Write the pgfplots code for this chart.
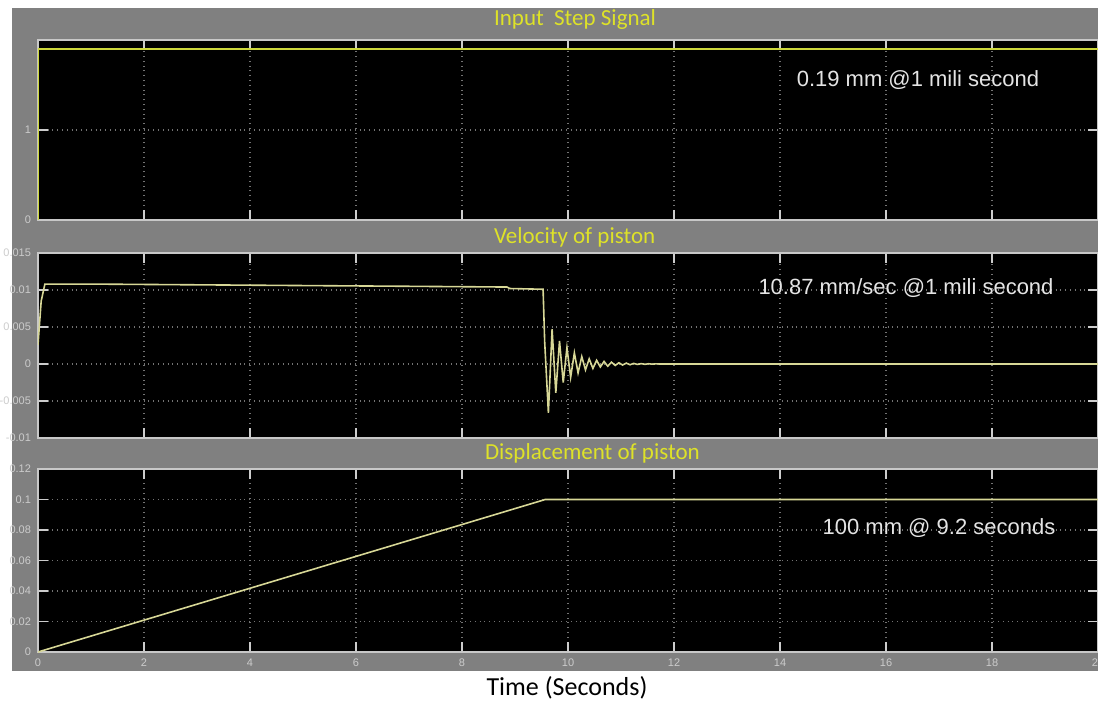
\documentclass[border=0pt]{standalone}
\usepackage{pgfplots}
\pgfplotsset{compat=1.18}
\usepackage{fontspec}
\setmainfont{Liberation Sans}
\newfontfamily\carlito{Carlito}
\definecolor{panel}{RGB}{128,128,128}
\definecolor{ttl}{RGB}{222,226,40}
\definecolor{stepc}{RGB}{205,215,60}
\definecolor{velc}{RGB}{215,215,150}
\definecolor{gridc}{RGB}{115,115,115}
\definecolor{framec}{RGB}{200,200,200}
\definecolor{annot}{RGB}{228,228,228}
\pgfplotsset{scopestyle/.style={
  scale only axis, width=530pt, xmin=0, xmax=20, xtick={0,2,...,20},
  axis background/.style={fill=black},
  axis line style={framec, line width=1pt},
  grid=major, major grid style={gridc, dotted, line width=0.7pt},
  tick style={white!80!black, line width=0.9pt}, major tick length=5pt,
  tick label style={font=\fontsize{5.5}{6}\selectfont, text=white!80!black},
  /pgf/number format/assume math mode=true,
  xticklabels={}, tick align=inside, anchor=north west,
  scaled y ticks=false,
}}
\pgfplotstableread{
t v
0 0.0026
0.06 0.0085
0.13 0.0108
1 0.0108
3 0.0107
5 0.0106
7 0.0105
8.85 0.0104
8.9 0.0102
9.53 0.0101
9.56 0.0030
9.63 -0.0066
9.70 0.0047
9.77 -0.0039
9.84 0.0031
9.91 -0.0025
9.98 0.0022
10.05 -0.0018
10.12 0.0015
10.19 -0.0012
10.26 0.0010
10.33 -0.0008
10.40 0.0007
10.47 -0.0006
10.54 0.0005
10.61 -0.0004
10.68 0.00035
10.75 -0.0003
10.82 0.00025
10.89 -0.0002
10.96 0.00017
11.03 -0.00014
11.10 0.00012
11.17 -0.0001
11.24 0.00008
11.31 -0.00006
11.38 0.00005
11.45 -0.00004
11.52 0.00003
11.59 -0.00002
11.66 0.00002
11.73 0
20 0
}\veltable
\begin{document}
\begin{tikzpicture}
\useasboundingbox (0,0) rectangle (549pt,-352.5pt);
\clip (0,0) rectangle (549pt,-352.5pt);
\fill[white] (0,0) rectangle (549pt,-352.5pt);
\fill[panel] (6pt,-4pt) rectangle (560pt,-335.5pt);
% top
\begin{axis}[scopestyle, at={(19pt,-20pt)}, height=90pt,
  ymin=0, ymax=2e-4, ytick={0,1e-4}, yticklabels={0,1}]
\addplot[stepc, line width=1.2pt] coordinates {(0,0) (0,1.9e-4) (20,1.9e-4)};
\node[anchor=south west, inner sep=1pt, font=\fontsize{4.5}{5}\selectfont, text=white!80!black] at (rel axis cs:-0.003,1) {x10$^{-4}$};
\end{axis}
% middle
\begin{axis}[scopestyle, at={(19pt,-126.5pt)}, height=92.5pt,
  ymin=-0.01, ymax=0.015, ytick={-0.01,-0.005,0,0.005,0.01,0.015},
  yticklabels={-0.01,-0.005,0,0.005,0.01,0.015}]
\addplot[velc, line width=0.8pt] table[x=t, y=v] {\veltable};
\end{axis}
% bottom
\begin{axis}[scopestyle, at={(19pt,-234.5pt)}, height=91.5pt,
  ymin=0, ymax=0.12, ytick={0,0.02,0.04,0.06,0.08,0.1,0.12},
  yticklabels={0,0.02,0.04,0.06,0.08,0.1,0.12},
  xticklabels={0,2,4,6,8,10,12,14,16,18,20}]
\addplot[velc, line width=0.8pt] coordinates {(0,0) (9.57,0.1) (20,0.1)};
\end{axis}
% titles
\node[anchor=west, text=ttl, font=\carlito\fontsize{11.5}{12}\selectfont] at (243.5pt,-9.5pt) {Input\ \ Step Signal};
\node[anchor=west, text=ttl, font=\carlito\fontsize{11.5}{12}\selectfont] at (243.5pt,-118.5pt) {Velocity of piston};
\node[anchor=west, text=ttl, font=\carlito\fontsize{11.5}{12}\selectfont] at (239pt,-226.5pt) {Displacement of piston};
% annotations
\node[text=annot, font=\fontsize{11}{12}\selectfont] at (459pt,-40pt) {0.19 mm @1 mili second};
\node[text=annot, font=\fontsize{11}{12}\selectfont] at (453pt,-144pt) {10.87 mm/sec @1 mili second};
\node[text=annot, font=\fontsize{11}{12}\selectfont] at (469.5pt,-264pt) {100 mm @ 9.2 seconds};
\node[text=black, font=\carlito\fontsize{13}{14}\selectfont] at (283.5pt,-344pt) {Time (Seconds)};
\end{tikzpicture}
\end{document}
